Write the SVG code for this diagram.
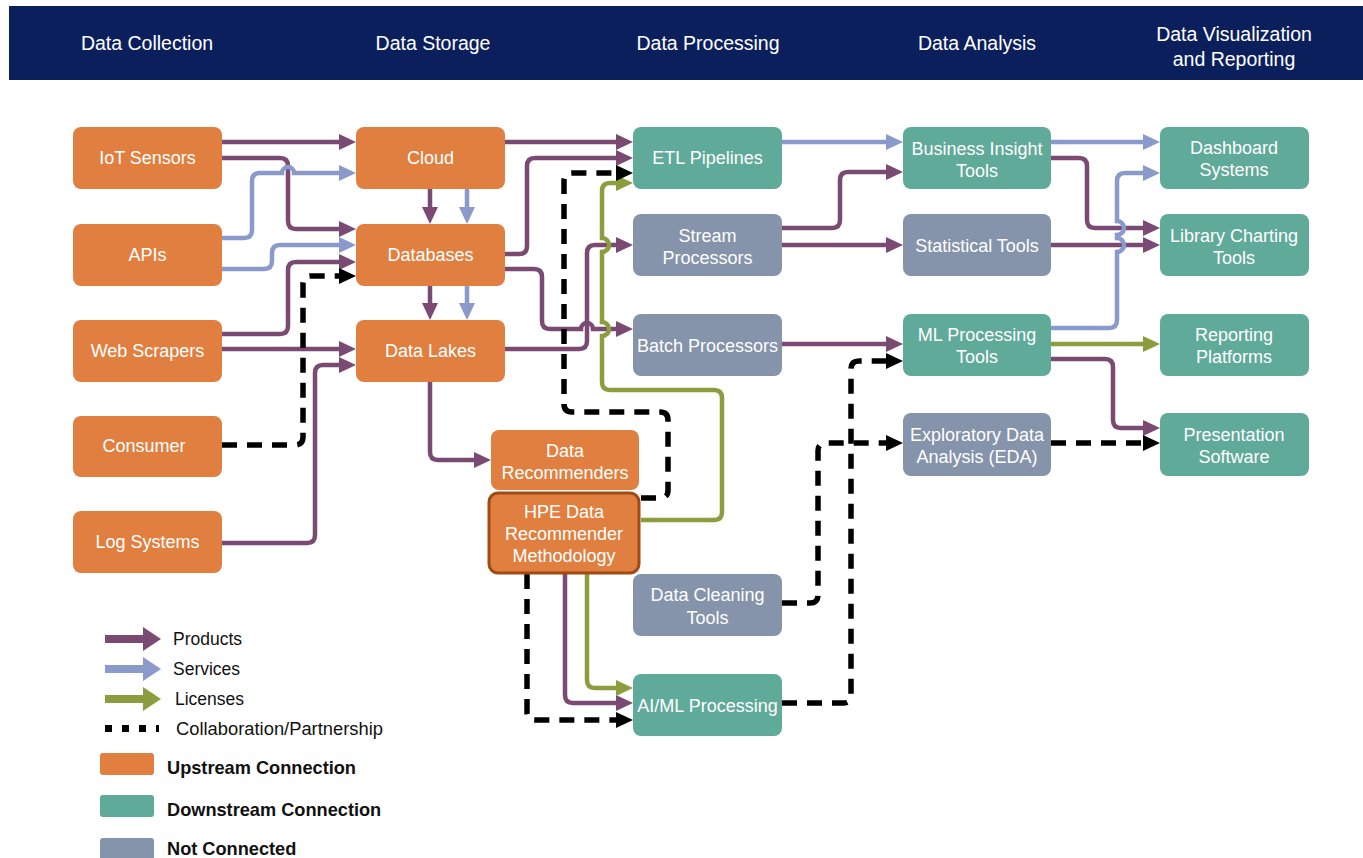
<svg xmlns="http://www.w3.org/2000/svg" width="1363" height="858" viewBox="0 0 1363 858">
<defs>
<style>
.up{fill:#e07f3f}
.dn{fill:#5faa98}
.nc{fill:#8593ab}
.nt{font-family:"Liberation Sans",Arial,sans-serif;font-size:18px;fill:#ffffff;text-anchor:middle}
.hd{font-family:"Liberation Sans",Arial,sans-serif;font-size:19.5px;fill:#ffffff;text-anchor:middle}
.p{fill:none;stroke:#7a4a72;stroke-width:4.5;marker-end:url(#ap)}
.b{fill:none;stroke:#8a9acb;stroke-width:4.5;marker-end:url(#ab)}
.g{fill:none;stroke:#8c9d3d;stroke-width:4.5;marker-end:url(#ag)}
.k{fill:none;stroke:#000000;stroke-width:5.5;stroke-dasharray:15 10;marker-end:url(#ak)}
.lg{font-family:"Liberation Sans",Arial,sans-serif;font-size:17.5px;fill:#111111}
.lb{font-family:"Liberation Sans",Arial,sans-serif;font-size:18.2px;font-weight:bold;fill:#111111}
</style>
<marker id="ap" markerUnits="userSpaceOnUse" markerWidth="18" markerHeight="16" refX="6" refY="8" orient="auto"><path d="M0,0 L17,8 L0,16 z" fill="#7a4a72"/></marker>
<marker id="ab" markerUnits="userSpaceOnUse" markerWidth="18" markerHeight="16" refX="6" refY="8" orient="auto"><path d="M0,0 L17,8 L0,16 z" fill="#8a9acb"/></marker>
<marker id="ag" markerUnits="userSpaceOnUse" markerWidth="18" markerHeight="16" refX="6" refY="8" orient="auto"><path d="M0,0 L17,8 L0,16 z" fill="#8c9d3d"/></marker>
<marker id="ak" markerUnits="userSpaceOnUse" markerWidth="18" markerHeight="16" refX="6" refY="8" orient="auto"><path d="M0,0 L17,8 L0,16 z" fill="#000000"/></marker>
</defs>
<rect width="1363" height="858" fill="#ffffff"/>
<g id="header">
<rect x="9" y="6" width="1354" height="74" fill="#0c1f5d"/>
<text class="hd" x="147" y="50">Data Collection</text>
<text class="hd" x="433" y="50">Data Storage</text>
<text class="hd" x="708" y="50">Data Processing</text>
<text class="hd" x="977" y="50">Data Analysis</text>
<text class="hd" x="1234" y="41">Data Visualization</text>
<text class="hd" x="1234" y="66">and Reporting</text>
</g>
<g id="connectors">
<path class="p" d="M222,142 H345"/>
<path class="p" d="M222,158 H280 Q288,158 288,166 V221 Q288,229 296,229 H345"/>
<path class="p" d="M222,334 H280 Q288,334 288,326 V270 Q288,262 296,262 H345"/>
<path class="p" d="M222,349 H345"/>
<path class="p" d="M222,543 H307 Q315,543 315,535 V373 Q315,365 323,365 H345"/>
<path class="p" d="M430,189 V213"/>
<path class="p" d="M430,286 V309"/>
<path class="p" d="M430,382 V452 Q430,460 438,460 H480"/>
<path class="p" d="M505,142 H622"/>
<path class="p" d="M505,254 H519 Q527,254 527,246 V166 Q527,158 535,158 H622"/>
<path class="p" d="M505,349 H579 Q587,349 587,341 V253 Q587,245 595,245 H622"/>
<path class="p" d="M505,269 H534 Q542,269 542,277 V321 Q542,329 550,329 H581 A6,6 0 0 1 593,329 H622"/>
<path class="p" d="M565,574 V695 Q565,703 573,703 H622"/>
<path class="p" d="M782,228 H832 Q840,228 840,220 V180 Q840,172 848,172 H892"/>
<path class="p" d="M782,245 H892"/>
<path class="p" d="M782,344 H892"/>
<path class="p" d="M1051,158 H1079 Q1087,158 1087,166 V220 Q1087,228 1095,228 H1149"/>
<path class="p" d="M1051,245 H1149"/>
<path class="p" d="M1051,359 H1105 Q1113,359 1113,367 V420 Q1113,428 1121,428 H1149"/>
<path class="b" d="M222,238 H244 Q252,238 252,230 V181 Q252,173 260,173 H282 A6,6 0 0 1 294,173 H345"/>
<path class="b" d="M222,269 H264 Q272,269 272,261 V253 Q272,245 280,245 H345"/>
<path class="b" d="M467,189 V213"/>
<path class="b" d="M467,286 V309"/>
<path class="b" d="M782,142 H892"/>
<path class="b" d="M1051,142 H1149"/>
<path class="b" d="M1051,328 H1109 Q1117,328 1117,320 V252 A7,7 0 0 0 1117,238 V235 A7,7 0 0 0 1117,221 V181 Q1117,173 1125,173 H1149"/>
<path class="g" d="M641,520 H714 Q722,520 722,512 V398 Q722,390 714,390 H610 Q602,390 602,382 V336 A7,7 0 0 0 602,322 V252 A7,7 0 0 0 602,238 V191 Q602,183 610,183 H622"/>
<path class="g" d="M587,574 V680 Q587,688 595,688 H622"/>
<path class="g" d="M1051,344 H1149"/>
<path class="k" d="M222,445 H295 Q303,445 303,437 V284 Q303,276 311,276 H345"/>
<path class="k" d="M641,498 H660 Q668,498 668,490 V420 Q668,412 660,412 H572 Q564,412 564,404 V181 Q564,173 572,173 H622"/>
<path class="k" d="M527,574 V712 Q527,720 535,720 H622"/>
<path class="k" d="M782,603 H810 Q818,603 818,595 V451 Q818,443 826,443 H892"/>
<path class="k" d="M782,703 H843 Q851,703 851,695 V369 Q851,361 859,361 H892"/>
<path class="k" d="M1051,443 H1149"/>
</g>
<g id="n-iot"><rect class="up" x="73" y="127" width="149" height="62" rx="8"/><text class="nt" x="147.5" y="164">IoT Sensors</text></g>
<g id="n-apis"><rect class="up" x="73" y="224" width="149" height="62" rx="8"/><text class="nt" x="147.5" y="261">APIs</text></g>
<g id="n-web"><rect class="up" x="73" y="320" width="149" height="62" rx="8"/><text class="nt" x="147.5" y="357">Web Scrapers</text></g>
<g id="n-consumer"><rect class="up" x="73" y="416" width="149" height="61" rx="8"/><text class="nt" x="144" y="452">Consumer</text></g>
<g id="n-log"><rect class="up" x="73" y="511" width="149" height="62" rx="8"/><text class="nt" x="147.5" y="548">Log Systems</text></g>
<g id="n-cloud"><rect class="up" x="356" y="127" width="149" height="62" rx="8"/><text class="nt" x="430.5" y="164">Cloud</text></g>
<g id="n-db"><rect class="up" x="356" y="224" width="149" height="62" rx="8"/><text class="nt" x="430.5" y="261">Databases</text></g>
<g id="n-lakes"><rect class="up" x="356" y="320" width="149" height="62" rx="8"/><text class="nt" x="430.5" y="357">Data Lakes</text></g>
<g id="n-rec"><rect class="up" x="491" y="430" width="148" height="60" rx="8"/><text class="nt" x="565" y="457">Data</text><text class="nt" x="565" y="479">Recommenders</text></g>
<g id="n-hpe"><rect class="up" x="489" y="493" width="150" height="80" rx="9" stroke="#a04b14" stroke-width="3"/><text class="nt" x="564" y="518">HPE Data</text><text class="nt" x="564" y="540">Recommender</text><text class="nt" x="564" y="562">Methodology</text></g>
<g id="n-etl"><rect class="dn" x="633" y="127" width="149" height="62" rx="8"/><text class="nt" x="707.5" y="164">ETL Pipelines</text></g>
<g id="n-stream"><rect class="nc" x="633" y="214" width="149" height="62" rx="8"/><text class="nt" x="707.5" y="242">Stream</text><text class="nt" x="707.5" y="264">Processors</text></g>
<g id="n-batch"><rect class="nc" x="633" y="314" width="149" height="62" rx="8"/><text class="nt" x="707.5" y="352">Batch Processors</text></g>
<g id="n-clean"><rect class="nc" x="633" y="574" width="149" height="62" rx="8"/><text class="nt" x="707.5" y="601">Data Cleaning</text><text class="nt" x="707.5" y="624">Tools</text></g>
<g id="n-aiml"><rect class="dn" x="633" y="674" width="149" height="62" rx="8"/><text class="nt" x="707.5" y="712">AI/ML Processing</text></g>
<g id="n-bi"><rect class="dn" x="903" y="127" width="148" height="62" rx="8"/><text class="nt" x="977" y="155">Business Insight</text><text class="nt" x="977" y="177">Tools</text></g>
<g id="n-stat"><rect class="nc" x="903" y="214" width="148" height="62" rx="8"/><text class="nt" x="977" y="252">Statistical Tools</text></g>
<g id="n-ml"><rect class="dn" x="903" y="314" width="148" height="62" rx="8"/><text class="nt" x="977" y="341">ML Processing</text><text class="nt" x="977" y="363">Tools</text></g>
<g id="n-eda"><rect class="nc" x="903" y="413" width="148" height="63" rx="8"/><text class="nt" x="977" y="441">Exploratory Data</text><text class="nt" x="977" y="463">Analysis (EDA)</text></g>
<g id="n-dash"><rect class="dn" x="1160" y="127" width="149" height="62" rx="8"/><text class="nt" x="1234" y="154">Dashboard</text><text class="nt" x="1234" y="176">Systems</text></g>
<g id="n-lib"><rect class="dn" x="1160" y="214" width="149" height="62" rx="8"/><text class="nt" x="1234" y="242">Library Charting</text><text class="nt" x="1234" y="264">Tools</text></g>
<g id="n-rep"><rect class="dn" x="1160" y="314" width="149" height="62" rx="8"/><text class="nt" x="1234" y="341">Reporting</text><text class="nt" x="1234" y="363">Platforms</text></g>
<g id="n-pres"><rect class="dn" x="1160" y="413" width="149" height="63" rx="8"/><text class="nt" x="1234" y="441">Presentation</text><text class="nt" x="1234" y="463">Software</text></g>
<g id="legend">
<rect x="105" y="635" width="39" height="8" fill="#7a4a72"/><path d="M143,627 L161,639 L143,651 z" fill="#7a4a72"/>
<rect x="105" y="665" width="39" height="8" fill="#8a9acb"/><path d="M143,657 L161,669 L143,681 z" fill="#8a9acb"/>
<rect x="105" y="695" width="39" height="8" fill="#8c9d3d"/><path d="M143,687 L161,699 L143,711 z" fill="#8c9d3d"/>
<rect x="105" y="725" width="7" height="7" fill="#000"/><rect x="122" y="725" width="7" height="7" fill="#000"/><rect x="139" y="725" width="7" height="7" fill="#000"/><rect x="156" y="725" width="3" height="7" fill="#000"/>
<text class="lg" x="173" y="645">Products</text>
<text class="lg" x="173" y="675">Services</text>
<text class="lg" x="175" y="705">Licenses</text>
<text class="lg" x="176" y="735" textLength="207" lengthAdjust="spacingAndGlyphs">Collaboration/Partnership</text>
<rect class="up" x="100" y="753" width="54" height="22" rx="3"/>
<rect class="dn" x="100" y="795" width="54" height="22" rx="3"/>
<rect class="nc" x="100" y="838" width="54" height="22" rx="3"/>
<text class="lb" x="167" y="774">Upstream Connection</text>
<text class="lb" x="167" y="816">Downstream Connection</text>
<text class="lb" x="167" y="855">Not Connected</text>
</g>
</svg>
